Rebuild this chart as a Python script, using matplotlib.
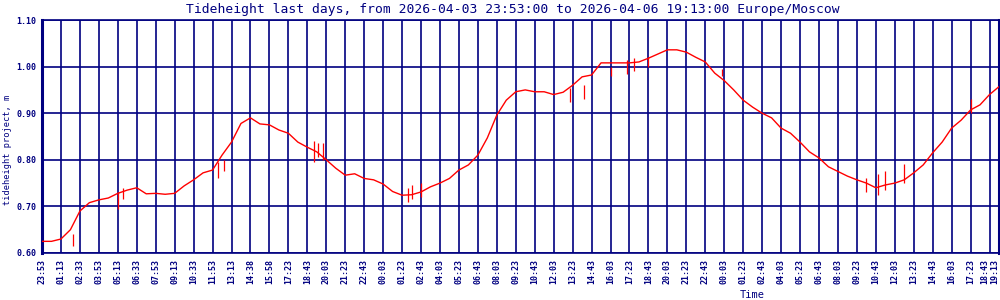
import numpy as np
import matplotlib
matplotlib.use("Agg")
import matplotlib.pyplot as plt

NAVY = "#000080"

# tick labels along the time axis (one every 80 minutes, last one is the end)
tick_labels = ["23:53", "01:13", "02:33", "03:53", "05:13", "06:33", "07:53", "09:13",
               "10:33", "11:53", "13:13", "14:38", "15:58", "17:23", "18:43", "20:03",
               "21:23", "22:43", "00:03", "01:23", "02:43", "04:03", "05:23", "06:43",
               "08:03", "09:23", "10:43", "12:03", "13:23", "14:43", "16:03", "17:23",
               "18:43", "20:03", "21:23", "22:43", "00:03", "01:23", "02:43", "04:03",
               "05:23", "06:43", "08:03", "09:23", "10:43", "12:03", "13:23", "14:43",
               "16:03", "17:23", "18:43", "19:13"]
tick_minutes = [80 * k for k in range(51)] + [4040]

# tide height read every 40 minutes from start (m)
height = [0.625, 0.625, 0.630, 0.650, 0.690, 0.708, 0.714, 0.718, 0.728, 0.735,
          0.740, 0.727, 0.728, 0.726, 0.728, 0.744, 0.757, 0.772, 0.778, 0.810,
          0.838, 0.878, 0.890, 0.877, 0.875, 0.864, 0.857, 0.838, 0.827, 0.817,
          0.800, 0.782, 0.767, 0.770, 0.760, 0.757, 0.748, 0.732, 0.724, 0.725,
          0.731, 0.742, 0.750, 0.760, 0.778, 0.789, 0.810, 0.847, 0.896, 0.928,
          0.946, 0.950, 0.946, 0.946, 0.940, 0.945, 0.960, 0.978, 0.982, 1.008,
          1.008, 1.008, 1.008, 1.010, 1.018, 1.027, 1.036, 1.036, 1.031, 1.020,
          1.010, 0.986, 0.970, 0.950, 0.928, 0.913, 0.900, 0.890, 0.868, 0.857,
          0.838, 0.817, 0.804, 0.785, 0.775, 0.765, 0.757, 0.750, 0.740, 0.746,
          0.750, 0.757, 0.772, 0.789, 0.815, 0.838, 0.868, 0.885, 0.907, 0.918,
          0.940]
height_minutes = [40 * i for i in range(101)]
end_minute = 4040
end_height = 0.957

# a few of the visible noise spikes: (minute, low, high)
spike_minute = [130, 320, 340, 745, 770, 1150, 1165, 1185, 1545, 1560, 1600,
                2230, 2290, 2400, 2470, 2500, 2560, 2870, 3480, 3530, 3560, 3640, 3920]
spike_low = [0.615, 0.695, 0.715, 0.760, 0.775, 0.795, 0.805, 0.800, 0.710, 0.715, 0.720,
             0.925, 0.930, 0.980, 0.985, 0.990, 1.000, 0.980, 0.730, 0.725, 0.735, 0.750, 0.900]
spike_high = [0.640, 0.730, 0.740, 0.795, 0.800, 0.840, 0.835, 0.835, 0.740, 0.745, 0.750,
              0.955, 0.960, 1.000, 1.015, 1.018, 1.020, 0.995, 0.760, 0.770, 0.775, 0.790, 0.930]

x = height_minutes + [end_minute]
y = height + [end_height]

fig = plt.figure(figsize=(10, 3), dpi=100)
ax = fig.add_axes([0.042, 0.1567, 0.957, 0.7766])

ax.plot(x, y, color="red", linewidth=1.0, zorder=3)
ax.vlines(spike_minute, spike_low, spike_high, color="red", linewidth=0.9, zorder=3)

ax.set_xlim(0, 4040)
ax.set_ylim(0.60, 1.10)

ax.set_xticks(tick_minutes)
ax.set_xticklabels(tick_labels, rotation=90, family="DejaVu Sans Mono",
                   fontsize=6, fontweight="bold", color=NAVY)
# the last two ticks sit very close together at the right edge
ax.get_xticklabels()[-1].set_horizontalalignment("right")
ax.get_xticklabels()[-2].set_horizontalalignment("right")
ax.set_yticks([0.6, 0.7, 0.8, 0.9, 1.0, 1.1])
ax.set_yticklabels(["0.60", "0.70", "0.80", "0.90", "1.00", "1.10"],
                   family="DejaVu Sans Mono", fontsize=6, fontweight="bold", color=NAVY)
ax.tick_params(length=0, pad=4)

ax.grid(True, color=NAVY, linewidth=1.2, zorder=1)
ax.set_axisbelow(True)
for side, spine in ax.spines.items():
    spine.set_color(NAVY)
    spine.set_linewidth(1.2)
ax.spines["left"].set_linewidth(2.2)
ax.spines["right"].set_linewidth(2.2)

fig.text(0.008, 0.5, "tideheight project, m", family="DejaVu Sans Mono", fontsize=6.2,
         color=NAVY, rotation=90, ha="center", va="center")
fig.text(0.752, 0.018, "Time", family="DejaVu Sans Mono", fontsize=7.5,
         color=NAVY, ha="center", va="center")
fig.text(0.513, 0.97, "Tideheight last days, from 2026-04-03 23:53:00 to 2026-04-06 19:13:00 Europe/Moscow",
         family="DejaVu Sans Mono", fontsize=9.4, color=NAVY, ha="center", va="center")

plt.savefig("out.png", dpi=100)
